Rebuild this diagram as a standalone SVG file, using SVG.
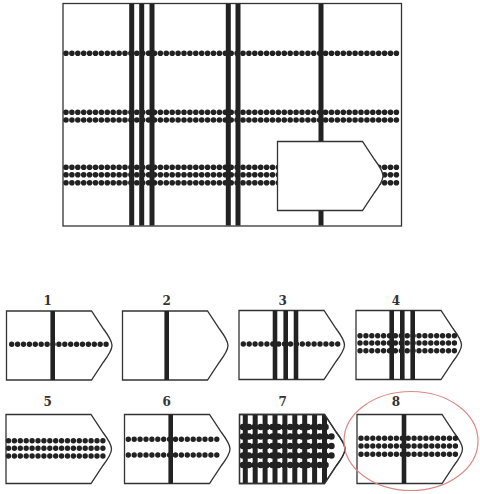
<svg xmlns="http://www.w3.org/2000/svg" width="480" height="494" viewBox="0 0 480 494">
<style>
.frame{fill:#fff;stroke:#333;stroke-width:1.3}
.bar{stroke:#222;stroke-width:5;fill:none}
.sbar{stroke:#222;stroke-width:4.6;fill:none}
.dots{stroke:#222;stroke-width:5.6;stroke-dasharray:0 5.9;stroke-linecap:round;fill:none}
.sdots{stroke:#222;stroke-width:5.4;stroke-dasharray:0 5.9;stroke-linecap:round;fill:none}
.fdots{stroke:#222;stroke-width:6.4;stroke-dasharray:0 5.9;stroke-linecap:round;fill:none}
.lbl{font-family:"DejaVu Serif","Liberation Serif",serif;font-size:12px;font-weight:bold;fill:#333;text-anchor:middle}
</style>
<defs>
<path id="piece" d="M0,0 H85 L97,18 C103,26 105.5,30 105.5,34.5 C105.5,39 103,43 97,51 L85,69 H0 Z"/>
<clipPath id="clip7" clipPathUnits="userSpaceOnUse"><use href="#piece"/></clipPath>
</defs>

<g id="main">
<rect class="frame" x="63" y="3.5" width="338.5" height="222.5"/>
<g id="main-dots">
<line class="dots" x1="66" y1="53.3" x2="400" y2="53.3"/>
<line class="dots" x1="66" y1="112.3" x2="400" y2="112.3"/>
<line class="dots" x1="66" y1="120" x2="400" y2="120"/>
<line class="dots" x1="66" y1="167.3" x2="400" y2="167.3"/>
<line class="dots" x1="66" y1="174.7" x2="400" y2="174.7"/>
<line class="dots" x1="66" y1="182.7" x2="400" y2="182.7"/>
</g>
<g id="main-bars">
<line class="bar" x1="131.7" y1="4" x2="131.7" y2="225.5"/>
<line class="bar" x1="141.7" y1="4" x2="141.7" y2="225.5"/>
<line class="bar" x1="152" y1="4" x2="152" y2="225.5"/>
<line class="bar" x1="228.3" y1="4" x2="228.3" y2="225.5"/>
<line class="bar" x1="238" y1="4" x2="238" y2="225.5"/>
<line class="bar" x1="321" y1="4" x2="321" y2="225.5"/>
</g>
<use href="#piece" class="frame" transform="translate(277.5,141.5)"/>
</g>

<g id="opt1">
<text class="lbl" x="47.7" y="304.5">1</text>
<g transform="translate(6.5,311)">
<use href="#piece" class="frame"/>
<line class="sdots" x1="5.2" y1="33.3" x2="101" y2="33.3"/>
<line class="sbar" x1="46.2" y1="0" x2="46.2" y2="69"/>
</g>
</g>

<g id="opt2">
<text class="lbl" x="166.7" y="304.5">2</text>
<g transform="translate(122.5,311)">
<use href="#piece" class="frame"/>
<line class="sbar" x1="44.2" y1="0" x2="44.2" y2="69"/>
</g>
</g>

<g id="opt3">
<text class="lbl" x="282.7" y="304.5">3</text>
<g transform="translate(239,310.5)">
<use href="#piece" class="frame"/>
<line class="sdots" x1="4.3" y1="33.5" x2="102" y2="33.5"/>
<line class="sbar" x1="36" y1="0" x2="36" y2="69"/>
<line class="sbar" x1="46.7" y1="0" x2="46.7" y2="69"/>
<line class="sbar" x1="57" y1="0" x2="57" y2="69"/>
</g>
</g>

<g id="opt4">
<text class="lbl" x="396" y="304.5">4</text>
<g transform="translate(356,310.5)">
<use href="#piece" class="frame"/>
<line class="sdots" x1="4" y1="25.2" x2="101" y2="25.2"/>
<line class="sdots" x1="4" y1="32.5" x2="101" y2="32.5"/>
<line class="sdots" x1="4" y1="40.2" x2="101" y2="40.2"/>
<line class="sbar" x1="35.7" y1="0" x2="35.7" y2="69"/>
<line class="sbar" x1="46.3" y1="0" x2="46.3" y2="69"/>
<line class="sbar" x1="56.7" y1="0" x2="56.7" y2="69"/>
</g>
</g>

<g id="opt5">
<text class="lbl" x="47.7" y="405.5">5</text>
<g transform="translate(6,414.5)">
<use href="#piece" class="frame"/>
<line class="sdots" x1="2.5" y1="26.2" x2="102.5" y2="26.2"/>
<line class="sdots" x1="2.5" y1="33.8" x2="102.5" y2="33.8"/>
<line class="sdots" x1="2.5" y1="41.5" x2="102.5" y2="41.5"/>
</g>
</g>

<g id="opt6">
<text class="lbl" x="166.7" y="405.5">6</text>
<g transform="translate(124.5,414.5)">
<use href="#piece" class="frame"/>
<line class="sdots" x1="3.8" y1="24.8" x2="96" y2="24.8"/>
<line class="sdots" x1="3.8" y1="40.5" x2="96" y2="40.5"/>
<line class="sbar" x1="46.2" y1="0" x2="46.2" y2="69"/>
</g>
</g>

<g id="opt7">
<text class="lbl" x="282.7" y="405.5">7</text>
<g transform="translate(239.5,414.5)">
<use href="#piece" class="frame"/>
<g clip-path="url(#clip7)">
<line class="bar" x1="5.8" y1="0" x2="5.8" y2="69"/>
<line class="bar" x1="15.7" y1="0" x2="15.7" y2="69"/>
<line class="bar" x1="25.6" y1="0" x2="25.6" y2="69"/>
<line class="bar" x1="35.5" y1="0" x2="35.5" y2="69"/>
<line class="bar" x1="45.4" y1="0" x2="45.4" y2="69"/>
<line class="bar" x1="55.3" y1="0" x2="55.3" y2="69"/>
<line class="bar" x1="65.2" y1="0" x2="65.2" y2="69"/>
<line class="bar" x1="75.1" y1="0" x2="75.1" y2="69"/>
<line class="bar" x1="85" y1="0" x2="85" y2="69"/>
</g>
<line class="fdots" x1="3.5" y1="12.5" x2="92" y2="12.5"/>
<line class="fdots" x1="3.5" y1="22" x2="95" y2="22"/>
<line class="fdots" x1="3.5" y1="31.5" x2="95" y2="31.5"/>
<line class="fdots" x1="3.5" y1="41" x2="95" y2="41"/>
<line class="fdots" x1="3.5" y1="50.5" x2="92" y2="50.5"/>
<use href="#piece" fill="none" stroke="#333" stroke-width="1.3"/>
</g>
</g>

<g id="opt8">
<text class="lbl" x="396" y="405.5">8</text>
<g transform="translate(357,414.5)">
<use href="#piece" class="frame"/>
<line class="sdots" x1="4" y1="23.8" x2="101" y2="23.8"/>
<line class="sdots" x1="4" y1="31.5" x2="101" y2="31.5"/>
<line class="sdots" x1="4" y1="39.8" x2="101" y2="39.8"/>
<line class="sbar" x1="47" y1="0" x2="47" y2="69"/>
</g>
<ellipse cx="411" cy="441" rx="67" ry="49.5" fill="none" stroke="#d98a84" stroke-width="1.2"/>
</g>
</svg>
